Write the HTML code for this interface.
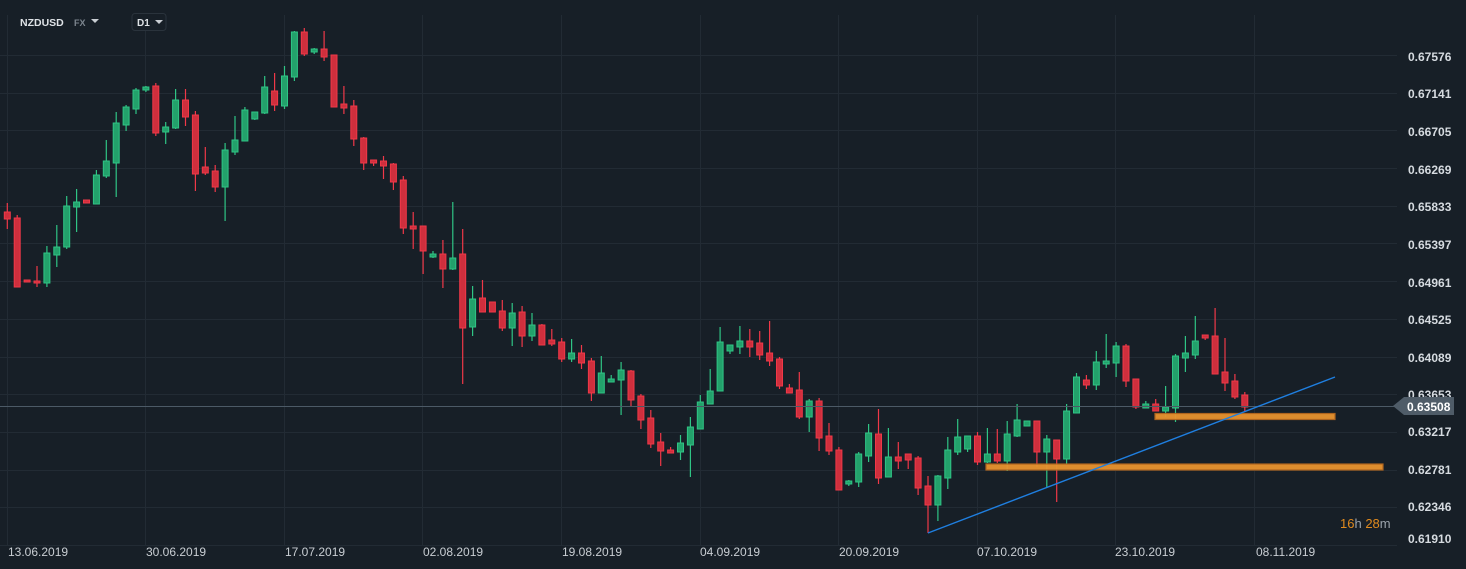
<!DOCTYPE html>
<html><head><meta charset="utf-8"><style>
html,body{margin:0;padding:0;background:#171f27;width:1466px;height:569px;overflow:hidden;font-family:"Liberation Sans",sans-serif}
svg{position:absolute;left:0;top:0}
</style></head><body>
<svg id="s" width="1466" height="569" viewBox="0 0 1466 569">
<g id="grid" stroke="#222b34" stroke-width="1"></g>
<g id="c"></g>
<line x1="0" y1="406.5" x2="1395" y2="406.5" stroke="#4c5a66" stroke-width="1"/>
<rect x="986" y="464" width="397" height="6" fill="#e8932f" stroke="#b8691e" stroke-width="1.2" opacity="0.95"/>
<rect x="1155" y="413.5" width="180" height="6" fill="#e8932f" stroke="#b8691e" stroke-width="1.2" opacity="0.95"/>
<line x1="928" y1="533" x2="1335" y2="377" stroke="#1f7fe0" stroke-width="1.4"/>
<g font-size="12" fill="#d6dbe0" font-weight="bold">
<text x="1408" y="61">0.67576</text><text x="1408" y="98">0.67141</text><text x="1408" y="136">0.66705</text><text x="1408" y="174">0.66269</text><text x="1408" y="211">0.65833</text><text x="1408" y="249">0.65397</text><text x="1408" y="287">0.64961</text><text x="1408" y="324">0.64525</text><text x="1408" y="362">0.64089</text><text x="1408" y="399">0.63653</text><text x="1408" y="436">0.63217</text><text x="1408" y="474">0.62781</text><text x="1408" y="511">0.62346</text><text x="1408" y="543">0.61910</text>
</g>
<polygon points="1393,406 1404,397 1454,397 1454,415 1404,415" fill="#4f5c68"/>
<text x="1407" y="411" font-size="12" font-weight="bold" fill="#ffffff">0.63508</text>
<g font-size="12" fill="#c9ced3">
<text x="8" y="556">13.06.2019</text><text x="146" y="556">30.06.2019</text><text x="285" y="556">17.07.2019</text><text x="423" y="556">02.08.2019</text><text x="562" y="556">19.08.2019</text><text x="700" y="556">04.09.2019</text><text x="839" y="556">20.09.2019</text><text x="977" y="556">07.10.2019</text><text x="1115" y="556">23.10.2019</text><text x="1256" y="556">08.11.2019</text>
</g>
<text x="1340" y="528" font-size="13"><tspan fill="#e08a1e">16</tspan><tspan fill="#9aa2aa">h </tspan><tspan fill="#e08a1e">28</tspan><tspan fill="#9aa2aa">m</tspan></text>
<text x="20" y="26" font-size="10.5" font-weight="bold" fill="#dfe3e7">NZDUSD</text>
<text x="74" y="26" font-size="9" font-weight="bold" fill="#7d868f">FX</text>
<polygon points="91,19 99,19 95,23" fill="#c9ced3"/>
<rect x="132" y="13.5" width="34" height="17" rx="3" fill="#171f27" stroke="#2a333c"/>
<text x="137" y="26" font-size="10" font-weight="bold" fill="#dfe3e7">D1</text>
<polygon points="155,20 163,20 159,24" fill="#c9ced3"/>
</svg>
<script>
var g=document.getElementById('grid'),c=document.getElementById('c'),ns='http://www.w3.org/2000/svg';
function el(p,t,a){var e=document.createElementNS(ns,t);for(var k in a)e.setAttribute(k,a[k]);p.appendChild(e);}
for(var k=0;k<14;k++){var y=Math.round(545-37.7*k)+0.5;el(g,'line',{x1:0,x2:1397,y1:y,y2:y});}
[7,145,284,422,561,700,838,977,1115,1254].forEach(function(x){el(g,'line',{x1:x+0.5,x2:x+0.5,y1:15,y2:545});});
var d=[
"r,203,212,219,229","r,215,218,287,287","r,280,280,282,282","r,266,281,283,287","g,246,253,283,287","g,225,247,255,267","g,196,206,247,249","g,189,202,207,232","r,200,200,203,203","g,170,175,204,204",
"g,140,161,176,178","g,112,123,163,197","g,105,107,125,131","g,88,90,109,114","g,86,87,90,92","r,83,86,133,136","g,122,127,132,144","g,89,100,128,129","r,89,100,117,126","r,111,115,174,191",
"r,147,167,173,175","r,165,171,187,192","g,143,150,187,221","g,116,140,152,155","g,107,110,141,141","g,112,112,119,120","g,76,87,113,114","r,73,91,105,111","g,66,76,106,109","g,31,32,77,81",
"r,28,32,54,56","g,48,49,52,54","r,31,49,57,61","r,55,55,107,107","r,86,104,108,114","r,100,106,139,146","r,137,138,163,170","r,160,160,163,166","r,156,161,166,179","r,163,164,182,190",
"r,176,180,228,234","r,212,226,229,249","r,226,226,251,274","g,251,254,257,258","r,240,254,269,288","g,202,258,269,270","r,229,254,328,384","g,286,299,327,336","r,280,298,312,312","r,302,302,312,312",
"r,300,311,328,331","g,303,313,328,346","r,306,312,336,347","g,313,325,336,341","r,324,325,345,345","r,329,340,344,346","r,338,342,359,362","g,339,353,359,362","r,345,353,363,369","r,358,361,393,401",
"g,356,373,393,393","g,375,379,382,382","g,362,370,380,415","r,370,371,400,406","r,394,396,420,429","r,410,418,444,448","r,433,442,451,466","r,447,450,453,453","g,435,443,452,460","g,417,427,445,477",
"g,395,402,429,429","g,369,391,404,404","g,327,342,391,391","g,345,345,351,354","g,326,341,347,354","r,329,341,347,357","r,331,343,355,360","r,321,353,361,366","r,357,359,386,389","r,384,388,393,393",
"r,372,390,417,419","g,399,401,417,432","r,398,401,438,451","r,423,436,451,455","r,447,450,490,490","g,480,481,484,486","g,452,454,482,487","g,424,433,456,462","r,409,434,478,484","g,428,457,477,477",
"r,442,457,461,469","r,454,454,460,469","r,456,458,488,495","r,476,486,505,533","g,475,476,505,521","g,437,450,478,489","g,419,437,452,455","g,436,436,449,452","r,432,436,462,465","g,428,454,462,463",
"r,429,454,461,463","g,421,434,461,471","g,404,420,436,437","g,421,421,426,426","r,421,421,452,467","g,435,439,452,487","r,440,440,459,502","g,404,411,459,464","g,373,377,413,413","r,375,380,385,389",
"g,351,362,385,390","g,334,361,364,368","g,342,346,363,377","r,344,346,381,387","r,379,379,407,409","g,401,404,408,408","r,399,404,411,411","g,386,407,411,417","g,354,356,408,422","g,336,353,358,372",
"g,316,341,355,359","r,335,335,338,340","r,308,336,374,374","r,338,372,383,391","r,374,381,397,399","r,392,395,407,411"];
d.forEach(function(s,i){var a=s.split(','),x=7.3+9.9*i,gr=a[0]=='g';var f=gr?'#23a16b':'#cf2f3d',st=gr?'#2fc585':'#f03848';
var wt=+a[1],bt=+a[2],bb=+a[3],wb=+a[4];if(bb-bt<2)bb=bt+2;
el(c,'line',{x1:x,x2:x,y1:wt,y2:wb,stroke:st,'stroke-width':1.2});
el(c,'rect',{x:x-3,y:bt,width:6,height:bb-bt,fill:f,stroke:st,'stroke-width':1});});
</script>
</body></html>
